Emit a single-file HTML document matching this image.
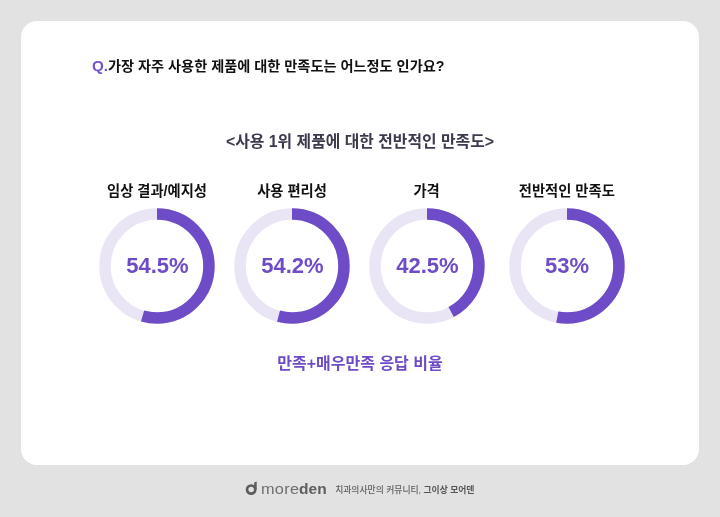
<!DOCTYPE html>
<html lang="ko">
<head>
<meta charset="utf-8">
<title>만족도</title>
<style>
html,body{margin:0;padding:0;}
body{width:720px;height:517px;background:#e2e2e2;position:relative;overflow:hidden;
 font-family:"Liberation Sans","Noto Sans CJK KR",sans-serif;}
.card{position:absolute;left:21px;top:21px;width:678.2px;height:443.6px;background:#fff;border-radius:16px;}
.t{position:absolute;white-space:nowrap;line-height:1;}
.q{left:91.9px;top:58.2px;font-size:14.2px;font-weight:700;color:#111;}
.q b{color:#7352ca;font-size:15.2px;}
.sub{left:0;width:720px;text-align:center;top:133.6px;font-size:15.85px;font-weight:700;color:#3d3a4e;}
.lab{width:160px;text-align:center;top:183.9px;font-size:14.3px;font-weight:700;color:#111;}
.num{width:160px;text-align:center;top:255.3px;font-size:22px;font-weight:700;color:#6f4cc7;}
.num span{display:inline-block;}
.note{left:0;width:720px;text-align:center;top:356.2px;font-size:16px;font-weight:700;color:#6f4cc7;}
svg.d{position:absolute;top:205.5px;width:120px;height:120px;}
</style>
</head>
<body>
<div class="card"></div>
<div class="t q"><b>Q.</b>가장 자주 사용한 제품에 대한 만족도는 어느정도 인가요?</div>
<div class="t sub">&lt;사용 1위 제품에 대한 전반적인 만족도&gt;</div>

<div class="t lab" style="left:77px">임상 결과/예지성</div>
<div class="t lab" style="left:212px">사용 편리성</div>
<div class="t lab" style="left:346.6px">가격</div>
<div class="t lab" style="left:486.8px">전반적인 만족도</div>

<svg class="d" style="left:97.4px" viewBox="0 0 120 120"><circle cx="60" cy="60" r="51.95" fill="none" stroke="#eae5f5" stroke-width="11.5"/><circle cx="60" cy="60" r="51.95" fill="none" stroke="#6f4cc7" stroke-width="11.5" pathLength="100" stroke-dasharray="54.5 100" transform="rotate(-90 60 60)"/></svg>
<svg class="d" style="left:232.4px" viewBox="0 0 120 120"><circle cx="60" cy="60" r="51.95" fill="none" stroke="#eae5f5" stroke-width="11.5"/><circle cx="60" cy="60" r="51.95" fill="none" stroke="#6f4cc7" stroke-width="11.5" pathLength="100" stroke-dasharray="54.2 100" transform="rotate(-90 60 60)"/></svg>
<svg class="d" style="left:367.4px" viewBox="0 0 120 120"><circle cx="60" cy="60" r="51.95" fill="none" stroke="#eae5f5" stroke-width="11.5"/><circle cx="60" cy="60" r="51.95" fill="none" stroke="#6f4cc7" stroke-width="11.5" pathLength="100" stroke-dasharray="42.3 100" transform="rotate(-90 60 60)"/></svg>
<svg class="d" style="left:507px" viewBox="0 0 120 120"><circle cx="60" cy="60" r="51.95" fill="none" stroke="#eae5f5" stroke-width="11.5"/><circle cx="60" cy="60" r="51.95" fill="none" stroke="#6f4cc7" stroke-width="11.5" pathLength="100" stroke-dasharray="53 100" transform="rotate(-90 60 60)"/></svg>

<div class="t num" style="left:77.4px"><span>54.5%</span></div>
<div class="t num" style="left:212.4px"><span>54.2%</span></div>
<div class="t num" style="left:347.4px"><span>42.5%</span></div>
<div class="t num" style="left:487px"><span>53%</span></div>

<div class="t note">만족+매우만족 응답 비율</div>

<svg style="position:absolute;left:240px;top:476px;width:30px;height:24px" viewBox="0 0 30 24"><circle cx="11.15" cy="13.6" r="4.1" fill="none" stroke="#5c5c5c" stroke-width="2.7"/><path d="M14.2 6.4L16.7 5.6V13.6H14.2Z" fill="#5c5c5c"/></svg>
<div class="t" style="left:261.2px;top:480.7px;font-size:15.5px;color:#6e6e6e;letter-spacing:0.3px;transform:scaleX(1.05);transform-origin:0 0;">more</div>
<div class="t" style="left:299.1px;top:480.7px;font-size:15.5px;font-weight:700;color:#5e5e5e;">den</div>
<div class="t" style="left:335.2px;top:485.8px;font-size:8.8px;font-weight:500;color:#606060;">치과의사만의 커뮤니티, <b style="color:#565656;font-weight:700;">그이상 모어덴</b></div>
</body>
</html>
